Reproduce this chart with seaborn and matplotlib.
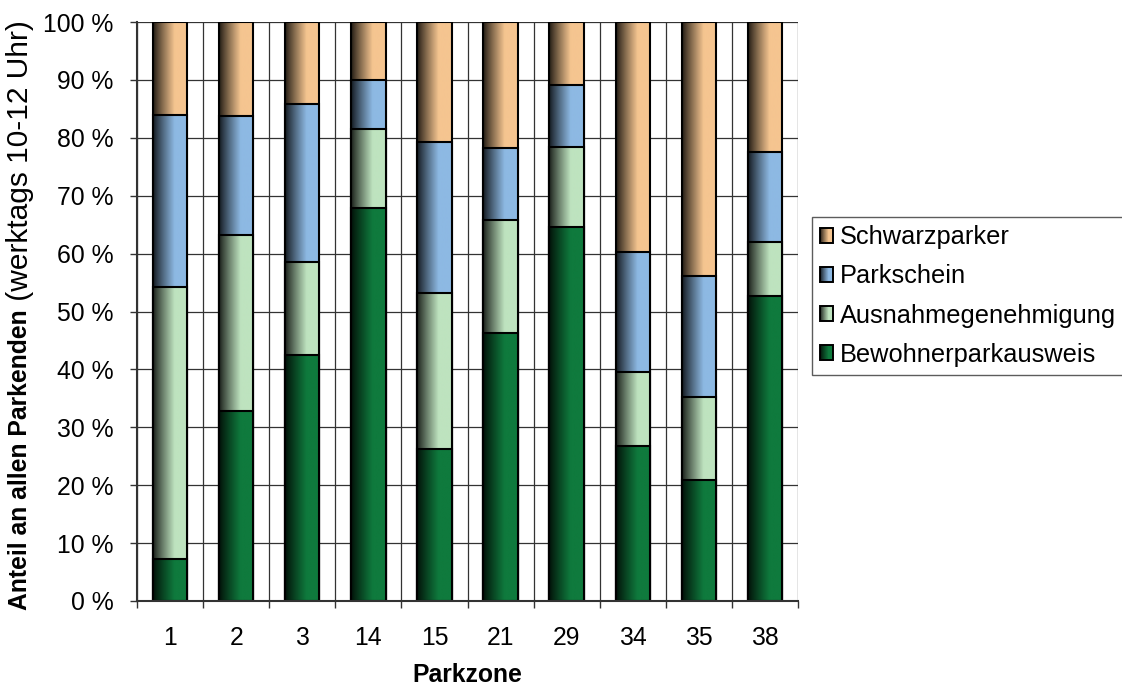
import numpy as np
import pandas as pd
import matplotlib
matplotlib.use("Agg")
import matplotlib.pyplot as plt
import seaborn as sns
from matplotlib.patches import Rectangle
from matplotlib.legend_handler import HandlerBase
from matplotlib.colors import to_rgb

# ---- data (percent shares) ----
zones = ["1", "2", "3", "14", "15", "21", "29", "34", "35", "38"]
bewohner = [7.3, 32.8, 42.5, 67.9, 26.3, 46.3, 64.6, 26.8, 20.9, 52.7]
ausnahme = [46.9, 30.4, 16.0, 13.6, 26.9, 19.5, 13.8, 12.8, 14.3, 9.3]
parkschein = [29.7, 20.6, 27.3, 8.5, 26.1, 12.4, 10.7, 20.7, 20.9, 15.5]
schwarz = [16.1, 16.2, 14.2, 10.0, 20.7, 21.8, 10.9, 39.7, 43.9, 22.5]
series_names = ["Bewohnerparkausweis", "Ausnahmegenehmigung", "Parkschein", "Schwarzparker"]
yticks = [0, 10, 20, 30, 40, 50, 60, 70, 80, 90, 100]

colors = {
    "Bewohnerparkausweis": "#0F7A3D",
    "Ausnahmegenehmigung": "#BEE3BF",
    "Parkschein": "#8DB9E3",
    "Schwarzparker": "#F5C590",
}

sns.set_theme(style="white")
plt.rcParams["font.family"] = ["Liberation Sans", "DejaVu Sans"]
plt.rcParams["text.color"] = "black"
plt.rcParams["xtick.color"] = "black"
plt.rcParams["ytick.color"] = "black"
plt.rcParams["axes.labelcolor"] = "black"
FS = 17.8

df = pd.DataFrame({"zone": zones, "Bewohnerparkausweis": bewohner,
                   "Ausnahmegenehmigung": ausnahme, "Parkschein": parkschein,
                   "Schwarzparker": schwarz})
cum = df[series_names].cumsum(axis=1)


def shade(col, t):
    c = np.array(to_rgb(col))
    f = 0.12 + 0.88 * min(t / 0.62, 1.0) ** 0.9
    return tuple(c * f)


def grad_img(col, n=64):
    arr = np.zeros((1, n, 3))
    for i in range(n):
        arr[0, i] = shade(col, (i + 0.5) / n)
    return arr


fig = plt.figure(figsize=(11.22, 6.86), dpi=100)
ax = fig.add_axes([137 / 1122, 1 - 601 / 686, (798 - 137) / 1122, (601 - 22) / 686])

layers = list(reversed(series_names))
for k, name in enumerate(layers):
    n0 = len(ax.patches)
    sns.barplot(x=df["zone"], y=cum[name], order=zones, color=colors[name],
                width=0.52, edgecolor="black", linewidth=1.5, ax=ax, saturation=1)
    img = grad_img(colors[name])
    for p in ax.patches[n0:]:
        x0, y0 = p.get_x(), p.get_y()
        w, h = p.get_width(), p.get_height()
        z = 2 + k
        p.set_facecolor("none")
        p.set_zorder(z + 0.5)
        im = ax.imshow(img, extent=[x0, x0 + w, y0, y0 + h], aspect="auto",
                       interpolation="bilinear", zorder=z, origin="lower")
        im.set_clip_path(p)

ax.set_xlim(-0.5, len(zones) - 0.5)
ax.set_ylim(0, 100)
ax.set_aspect("auto")

# grid
ax.set_axisbelow(True)
ax.set_yticks(yticks)
ax.set_yticklabels([f"{v} %" for v in yticks], fontsize=FS)
ax.set_xticks(range(len(zones)))
ax.set_xticklabels(zones, fontsize=FS)
ax.set_xticks(np.arange(-0.5, len(zones), 1.0), minor=True)
ax.grid(True, axis="y", which="major", color="#333333", linewidth=0.9)
ax.grid(True, axis="x", which="minor", color="#333333", linewidth=0.9)
ax.grid(False, axis="x", which="major")
ax.tick_params(axis="x", which="major", length=0, pad=18, labelcolor="black")
ax.tick_params(axis="x", which="minor", length=5, width=1, color="#333333", bottom=True)
ax.tick_params(axis="y", which="major", length=5, width=1, color="#333333", pad=12,
               left=True, labelcolor="black")
for s in ["top", "right"]:
    ax.spines[s].set_visible(False)
for s in ["left", "bottom"]:
    ax.spines[s].set_color("#333333")
    ax.spines[s].set_linewidth(1.5)
    ax.spines[s].set_zorder(10)

ax.set_xlabel("Parkzone", fontsize=FS, fontweight="bold", labelpad=9, color="black")
ax.set_ylabel("")

# y label composed of bold + regular part
t1 = fig.text(20 / 1122, 1 - 610 / 686, "Anteil an allen Parkenden", rotation=90,
              ha="center", va="bottom", fontsize=FS, fontweight="bold", color="black")
ax.annotate(" (werktags 10-12 Uhr)", xy=(0.5, 1.0), xycoords=t1, rotation=90,
            ha="center", va="bottom", fontsize=21.5, annotation_clip=False,
            color="black")


# legend with gradient keys
class GradHandler(HandlerBase):
    def __init__(self, color):
        super().__init__()
        self.color = color

    def create_artists(self, legend, orig_handle, xdescent, ydescent, width,
                       height, fontsize, trans):
        arts = []
        n = 14
        for i in range(n):
            c = shade(self.color, (i + 0.5) / n)
            arts.append(Rectangle((-xdescent + width * i / n, -ydescent),
                                  width / n * 1.05, height, facecolor=c,
                                  edgecolor="none", transform=trans))
        arts.append(Rectangle((-xdescent, -ydescent), width, height,
                              facecolor="none", edgecolor="black", lw=1.4,
                              transform=trans))
        return arts


handles, hmap = [], {}
for name in layers:
    h = Rectangle((0, 0), 1, 1, facecolor=colors[name])
    handles.append(h)
    hmap[h] = GradHandler(colors[name])

leg = fig.legend(handles, layers, handler_map=hmap, loc="upper left",
                 bbox_to_anchor=(812 / 1122, 1 - 217 / 686), fontsize=18.3,
                 handlelength=0.52, handleheight=0.52, handletextpad=0.25,
                 labelspacing=0.6, borderpad=0.32, borderaxespad=0,
                 frameon=True, fancybox=False, edgecolor="#333333")
leg.get_frame().set_linewidth(1.0)
for t in leg.get_texts():
    t.set_color("black")

fig.savefig("out.png", dpi=100)
